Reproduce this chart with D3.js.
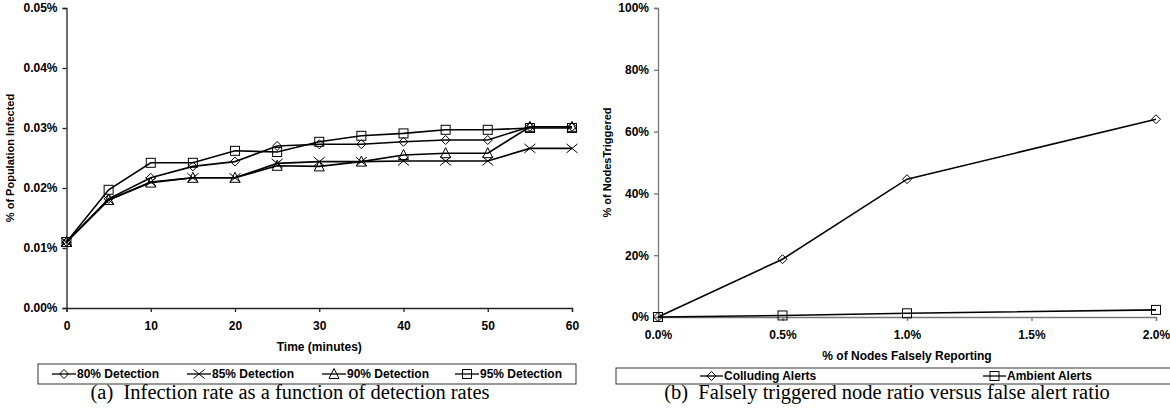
<!DOCTYPE html>
<html lang="en">
<head>
<meta charset="utf-8">
<title>D3</title>
<style>
  body { margin: 0; background: #fff; }
  svg text { font-family: "Liberation Sans", Arial, sans-serif; font-weight: bold; font-size: 12px; fill: #000; }
  .ytitle { font-size: 11px !important; }
  .caption { font-family: "Liberation Serif", "Times New Roman", serif !important; font-weight: normal !important; font-size: 20.5px !important; }
  .series { fill: none; stroke: #000; stroke-width: 1.6px; }
  .mark { fill: none; stroke: #000; stroke-width: 1px; }
</style>
</head>
<body>
<div id="chart"></div>
<script src="https://cdnjs.cloudflare.com/ajax/libs/d3/7.8.5/d3.min.js"></script>
<script>
  // (a) infection rate, values in % of population
  var times = [0, 5, 10, 15, 20, 25, 30, 35, 40, 45, 50, 55, 60];
  var det80 = [0.0110, 0.0182, 0.0217, 0.0236, 0.0244, 0.0270, 0.0273, 0.0273, 0.0277, 0.0280, 0.0280, 0.0302, 0.0302];
  var det85 = [0.0110, 0.0180, 0.0210, 0.0217, 0.0217, 0.0241, 0.0244, 0.0244, 0.0245, 0.0245, 0.0245, 0.0266, 0.0266];
  var det90 = [0.0110, 0.0180, 0.0209, 0.0217, 0.0217, 0.0237, 0.0236, 0.0244, 0.0255, 0.0258, 0.0258, 0.0302, 0.0302];
  var det95 = [0.0110, 0.0197, 0.0242, 0.0242, 0.0262, 0.0260, 0.0277, 0.0287, 0.0291, 0.0297, 0.0297, 0.0300, 0.0300];
  var seriesA = ["80% Detection", "85% Detection", "90% Detection", "95% Detection"];
  var yTicksA = [0, 0.01, 0.02, 0.03, 0.04, 0.05];
  var xTicksA = [0, 10, 20, 30, 40, 50, 60];

  // (b) falsely triggered nodes, in %
  var falseRatio = [0, 0.5, 1.0, 2.0];
  var colluding = [0, 18.7, 44.6, 64.0];
  var ambient = [0, 0.5, 1.2, 2.3];
  var seriesB = ["Colluding Alerts", "Ambient Alerts"];
  var yTicksB = [0, 20, 40, 60, 80, 100];
  var xTicksB = [0, 0.5, 1.0, 1.5, 2.0];

  var width = 1170, height = 412;
  var svg = d3.select("#chart").append("svg")
      .attr("width", width).attr("height", height);

  function marker(g, type, x, y) {
    var s = 4.5;
    if (type == "diamond") {
      g.append("path").attr("class", "mark")
        .attr("d", "M" + x + "," + (y - s) + "L" + (x + s) + "," + y + "L" + x + "," + (y + s) + "L" + (x - s) + "," + y + "Z");
    } else if (type == "cross") {
      g.append("path").attr("class", "mark")
        .attr("d", "M" + (x - s - 1) + "," + (y - s) + "L" + (x + s + 1) + "," + (y + s) + "M" + (x - s - 1) + "," + (y + s) + "L" + (x + s + 1) + "," + (y - s));
    } else if (type == "triangle") {
      g.append("path").attr("class", "mark")
        .attr("d", "M" + x + "," + (y - s - 1) + "L" + (x + s + 0.5) + "," + (y + s) + "L" + (x - s - 0.5) + "," + (y + s) + "Z");
    } else {
      g.append("rect").attr("class", "mark")
        .attr("x", x - s).attr("y", y - s).attr("width", 2 * s).attr("height", 2 * s);
    }
  }

  function styleAxis(g, color) {
    g.select(".domain").attr("stroke", color).attr("stroke-width", 1.3);
    g.selectAll(".tick line").attr("stroke", color).attr("stroke-width", 1.3);
    g.selectAll(".tick text").attr("fill", "#000");
    g.attr("font-family", null).attr("font-size", null);
  }

  // ---------- chart (a) ----------
  var xA = d3.scaleLinear().domain([0, 60]).range([66.5, 572]);
  var yA = d3.scaleLinear().domain([0, 0.05]).range([308, 8]);

  var gAy = svg.append("g").attr("transform", "translate(" + xA(0) + ",0)")
      .call(d3.axisLeft(yA).tickValues(yTicksA).tickSize(4).tickPadding(5)
        .tickFormat(function(d) { return d.toFixed(2) + "%"; }));
  styleAxis(gAy, "#222");
  var gAx = svg.append("g").attr("transform", "translate(0," + yA(0) + ")")
      .call(d3.axisBottom(xA).tickValues(xTicksA).tickSize(4).tickPadding(9));
  styleAxis(gAx, "#222");

  svg.append("text").attr("x", (xA(0) + xA(60)) / 2).attr("y", 351)
    .attr("text-anchor", "middle").text("Time (minutes)");
  svg.append("text").attr("class", "ytitle")
    .attr("transform", "translate(14," + ((yA(0) + yA(0.05)) / 2) + ") rotate(-90)")
    .attr("text-anchor", "middle").text("% of Population Infected");

  var dataA = [det80, det85, det90, det95];
  var marksA = ["diamond", "cross", "triangle", "square"];
  var lineA = d3.line().x(function(d, i) { return xA(times[i]); }).y(function(d) { return yA(d); });
  dataA.forEach(function(vals, k) {
    svg.append("path").datum(vals).attr("class", "series").attr("d", lineA);
  });
  dataA.forEach(function(vals, k) {
    var g = svg.append("g");
    vals.forEach(function(v, i) { marker(g, marksA[k], xA(times[i]), yA(v)); });
  });

  // legend (a)
  svg.append("rect").attr("x", 38).attr("y", 364).attr("width", 538).attr("height", 20)
    .attr("fill", "none").attr("stroke", "#333").attr("stroke-width", 1);
  var legXA = [52, 187, 322, 455];
  seriesA.forEach(function(name, k) {
    var g = svg.append("g");
    g.append("line").attr("x1", legXA[k]).attr("x2", legXA[k] + 24).attr("y1", 374).attr("y2", 374)
      .attr("stroke", "#000").attr("stroke-width", 1.3);
    marker(g, marksA[k], legXA[k] + 12, 374);
    g.append("text").attr("x", legXA[k] + 25).attr("y", 378).text(name);
  });

  svg.append("text").attr("class", "caption").attr("x", 290).attr("y", 399)
    .attr("text-anchor", "middle").attr("xml:space", "preserve")
    .text("(a)  Infection rate as a function of detection rates");

  // ---------- chart (b) ----------
  var xB = d3.scaleLinear().domain([0, 2]).range([658, 1156]);
  var yB = d3.scaleLinear().domain([0, 100]).range([317, 8]);

  var gBy = svg.append("g").attr("transform", "translate(" + xB(0) + ",0)")
      .call(d3.axisLeft(yB).tickValues(yTicksB).tickSize(4).tickPadding(5)
        .tickFormat(function(d) { return d + "%"; }));
  styleAxis(gBy, "#777");
  var gBx = svg.append("g").attr("transform", "translate(0," + yB(0) + ")")
      .call(d3.axisBottom(xB).tickValues(xTicksB).tickSize(4).tickPadding(9)
        .tickFormat(function(d) { return d.toFixed(1) + "%"; }));
  styleAxis(gBx, "#777");

  svg.append("text").attr("x", (xB(0) + xB(2)) / 2).attr("y", 360)
    .attr("text-anchor", "middle").text("% of Nodes Falsely Reporting");
  svg.append("text").attr("class", "ytitle")
    .attr("transform", "translate(611," + ((yB(0) + yB(100)) / 2) + ") rotate(-90)")
    .attr("text-anchor", "middle").text("% of NodesTriggered");

  var dataB = [colluding, ambient];
  var marksB = ["diamond", "square"];
  var lineB = d3.line().x(function(d, i) { return xB(falseRatio[i]); }).y(function(d) { return yB(d); });
  dataB.forEach(function(vals, k) {
    svg.append("path").datum(vals).attr("class", "series").attr("d", lineB);
    var g = svg.append("g");
    vals.forEach(function(v, i) { marker(g, marksB[k], xB(falseRatio[i]), yB(v)); });
  });

  // legend (b) - box runs off the right edge
  svg.append("rect").attr("x", 616).attr("y", 368).attr("width", 600).attr("height", 16)
    .attr("fill", "none").attr("stroke", "#333").attr("stroke-width", 1);
  var legXB = [700, 983];
  seriesB.forEach(function(name, k) {
    var g = svg.append("g");
    g.append("line").attr("x1", legXB[k]).attr("x2", legXB[k] + 23).attr("y1", 376).attr("y2", 376)
      .attr("stroke", "#000").attr("stroke-width", 1.3);
    marker(g, marksB[k], legXB[k] + 11.5, 376);
    g.append("text").attr("x", legXB[k] + 24).attr("y", 380).text(name);
  });

  svg.append("text").attr("class", "caption").attr("x", 887).attr("y", 399)
    .attr("text-anchor", "middle").attr("xml:space", "preserve")
    .text("(b)  Falsely triggered node ratio versus false alert ratio");
</script>
</body>
</html>
